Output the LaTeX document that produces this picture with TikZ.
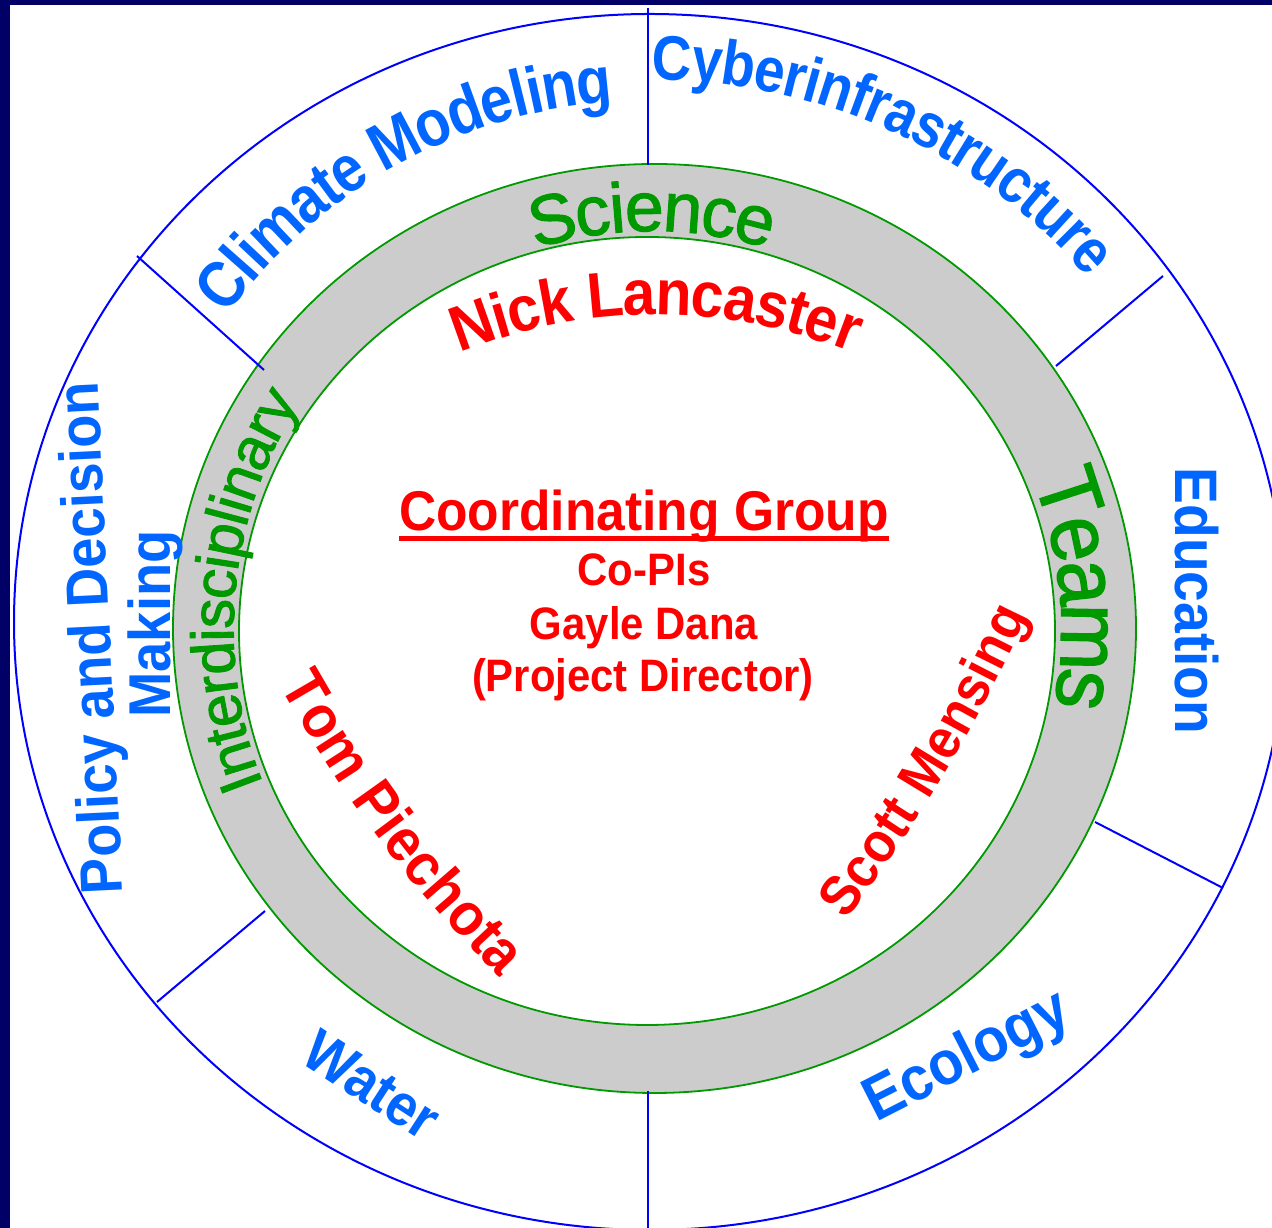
\documentclass[tikz,border=0pt]{standalone}
\usepackage{fontspec}
\usetikzlibrary{decorations.text}
\setmainfont{Liberation Sans}
\newfontfamily\bfont[FakeStretch=0.92]{Liberation Sans Bold}
\newfontfamily\bnarrow[FakeStretch=0.87]{Liberation Sans Bold}
\newfontfamily\rfont[FakeBold=1.5]{Liberation Sans}
\newfontfamily\rnarrow[FakeStretch=0.93, FakeBold=1.5]{Liberation Sans}
\definecolor{navyband}{HTML}{000066}
\definecolor{lineblue}{HTML}{0000FF}
\definecolor{tblue}{HTML}{0066FF}
\definecolor{tgreen}{HTML}{009900}
\definecolor{ringgray}{HTML}{CCCCCC}
\definecolor{tred}{HTML}{FF0000}
\newcommand\fblue{\bfont\fontsize{59}{60}\selectfont}
\newcommand\fclim{\bnarrow\fontsize{66}{68}\selectfont}
\newcommand\fcyb{\bnarrow\fontsize{63}{64}\selectfont}
\newcommand\feco{\bfont\fontsize{62}{64}\selectfont}
\newcommand\fedu{\bfont\fontsize{60}{62}\selectfont}
\newcommand\fsci{\rfont\fontsize{70}{72}\selectfont}
\newcommand\fteams{\rnarrow\fontsize{86}{88}\selectfont}
\newcommand\finter{\rfont\fontsize{60}{62}\selectfont}
\newcommand\fnick{\bfont\fontsize{64}{66}\selectfont}
\newcommand\ftom{\bfont\fontsize{60}{62}\selectfont}
\newcommand\fscott{\bfont\fontsize{56}{58}\selectfont}
\newcommand\fcg{\bfont\fontsize{56}{58}\selectfont}
\newcommand\fsub{\bfont\fontsize{45.5}{47}\selectfont}
\tikzset{
  divider/.style={lineblue, line width=2pt},
  ringline/.style={tgreen, line width=1.8pt},
  bluelabel/.style={text=tblue, inner sep=0pt, font=\fblue},
  redlabel/.style={text=tred, inner sep=0pt, anchor=base},
  arctext/.style={decorate, decoration={text along path, text align=center, #1}}
}
\begin{document}
\begin{tikzpicture}[x=1pt, y=1pt]
\useasboundingbox (0,0) rectangle (1272,1228);
\clip (0,0) rectangle (1272,1228);
\fill[white] (0,0) rectangle (1272,1228);

% outer blue circle
\draw[lineblue, line width=2pt] (650,606) ellipse [x radius=636, y radius=608];

% grey ring
\fill[ringgray, even odd rule] (654.5,599.5) ellipse [x radius=481.5, y radius=464.5]
  (647,597) ellipse [x radius=408, y radius=394];
\draw[ringline] (654.5,599.5) ellipse [x radius=481.5, y radius=464.5];
\draw[ringline] (647,597) ellipse [x radius=408, y radius=394];

% dividers
\coordinate (d1a) at (648,1220); \coordinate (d1b) at (648,1063);
\coordinate (d2a) at (648,137);  \coordinate (d2b) at (648,0);
\coordinate (d3a) at (137,972);  \coordinate (d3b) at (264,858);
\coordinate (d4a) at (1056,862); \coordinate (d4b) at (1163,952);
\coordinate (d5a) at (1095,406); \coordinate (d5b) at (1223,340);
\coordinate (d6a) at (265,317);  \coordinate (d6b) at (157,226);
\draw[divider] (d1a) -- (d1b);
\draw[divider] (d2a) -- (d2b);
\draw[divider] (d3a) -- (d3b);
\draw[divider] (d4a) -- (d4b);
\draw[divider] (d5a) -- (d5b);
\draw[divider] (d6a) -- (d6b);

% outer curved labels
\path[arctext={text={|\fclim|Climate Modeling}, text color=tblue, raise=-23.6pt}]
  (650,603) ++(153.9:548) arc[start angle=153.9, end angle=83.9, radius=548];
\path[arctext={text={|\fcyb|Cyberinfrastructure}, text color=tblue, raise=-22.6pt}]
  (650,603) ++(104.5:590 and 568) arc[start angle=104.5, end angle=24.5, x radius=590, y radius=568];

% straight outer labels
\node[bluelabel, font=\fedu, rotate=-90, anchor=base] (edu) at (1175,627) {Education};
\node[bluelabel, font=\feco, rotate=27] (eco) at (968,170) {Ecology};
\node[bluelabel, rotate=-33] (wat) at (372,143) {Water};
\node[bluelabel, rotate=92.8, anchor=base] (pol) at (110.3,591) {Policy and Decision};
\node[bluelabel, rotate=90, anchor=base] (mak) at (170,604) {Making};

% ring labels
\path[arctext={text={|\fsci|Science}, text color=tgreen, raise=-25pt}]
  (652,599) ++(120:423) arc[start angle=120, end angle=60, radius=423];
\path[arctext={text={|\fteams|Teams}, text color=tgreen, raise=-30.8pt}]
  (652,599) ++(45.3:440) arc[start angle=45.3, end angle=-34.7, radius=440];
\path[arctext={text={|\finter|Interdisciplinary}, text color=tgreen, raise=-21.5pt}]
  (652,599) ++(224.5:440) arc[start angle=224.5, end angle=124.5, radius=440];

% red names
\path[arctext={text={|\fnick|Nick Lancaster}, text color=tred, raise=-23pt}]
  (656,385) ++(120:551) arc[start angle=120, end angle=60, radius=551];
\path[arctext={text={|\ftom|Tom Piechota}, text color=tred, raise=-21.5pt}]
  (280,586) to[bend right=8] (542,238);
\path[arctext={text={|\fscott|Scott Mensing}, text color=tred, raise=-20pt}]
  (803.7,283.5) to[bend right=6] (1029.3,661.5);

% centre block
\node[redlabel, font=\fcg] (cg) at (644,697) {Coordinating Group};
\draw[tred, line width=5pt] ([yshift=-8pt]cg.base west) -- ([yshift=-8pt]cg.base east);
\node[redlabel, font=\fsub] (copis) at (644,642) {Co-PIs};
\node[redlabel, font=\fsub] (gayle) at (644,588) {Gayle Dana};
\node[redlabel, font=\fsub] (pd) at (643,536) {(Project Director)};

% frame bands
\fill[navyband] (0,1223) rectangle (1272,1228);
\fill[navyband] (0,0) rectangle (10,1228);
\end{tikzpicture}
\end{document}
